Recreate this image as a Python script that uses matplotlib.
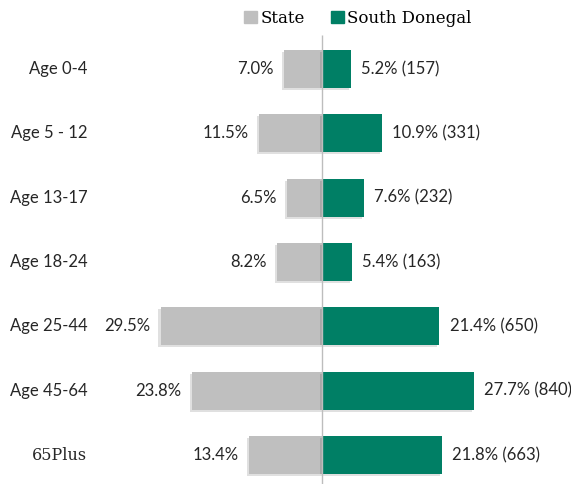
import matplotlib.pyplot as plt
import matplotlib.patheffects as pe
from matplotlib.patches import Patch

# age profile: state vs South Donegal (percent of population)
groups = ['Age 0-4', 'Age 5 - 12', 'Age 13-17', 'Age 18-24', 'Age 25-44', 'Age 45-64', '65Plus']
state = [7.0, 11.5, 6.5, 8.2, 29.5, 23.8, 13.4]
donegal = [5.2, 10.9, 7.6, 5.4, 21.4, 27.7, 21.8]
donegal_count = [157, 331, 232, 163, 650, 840, 663]

grey = '#BFBFBF'
green = '#007F65'

plt.rcParams['font.family'] = ['Lato', 'DejaVu Sans']

fig = plt.figure(figsize=(5.71, 4.84), dpi=100)
ax = fig.add_axes([0, 0, 1, 1])

y = list(range(len(groups)))
shadow = [pe.SimplePatchShadow(offset=(-1.5, -1.5), shadow_rgbFace='#000000', alpha=0.12), pe.Normal()]
ax.barh(y, [-v for v in state], height=0.59, color=grey, path_effects=shadow)
ax.barh(y, donegal, height=0.59, color=green, path_effects=shadow)

# centre line
ax.vlines(0, -0.53, 6.5, color='#BDBDBD', lw=1, zorder=3)

for i in y:
    ax.text(-state[i] - 1.9, i, f'{state[i]:.1f}%', ha='right', va='center', fontsize=12, color='#262626')
    ax.text(donegal[i] + 1.9, i, f'{donegal[i]:.1f}% ({donegal_count[i]})', ha='left', va='center',
            fontsize=12, color='#262626')
    fam = 'DejaVu Serif' if groups[i] == '65Plus' else None
    ax.text(-42.9, i, groups[i], ha='right', va='center', fontsize=12 if fam is None else 11.5,
            color='#262626', family=fam or ['Lato', 'DejaVu Sans'])

ax.set_xlim(-58.8, 45.4)
ax.set_ylim(6.45, -1.073)
ax.axis('off')

handles = [Patch(color=grey, label='State'), Patch(color=green, label='South Donegal')]
ax.legend(handles=handles, loc='upper center', bbox_to_anchor=(0.627, 1.01), ncol=2, frameon=False,
          handlelength=0.75, handleheight=0.75, handletextpad=0.2, columnspacing=1.6,
          prop={'family': 'DejaVu Serif', 'size': 12})

fig.savefig('out.png', dpi=100)
